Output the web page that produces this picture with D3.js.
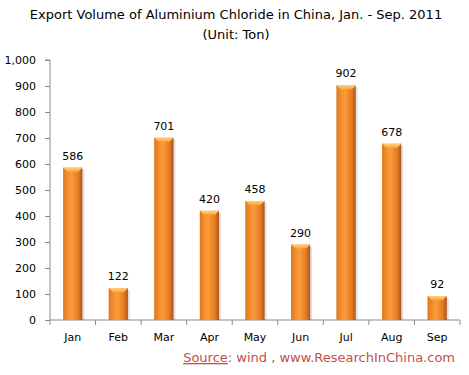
<!DOCTYPE html>
<html lang="en">
<head>
  <meta charset="UTF-8">
  <title>Export Volume of Aluminium Chloride</title>
  <script src="https://cdn.jsdelivr.net/npm/d3@7"></script>
  <style>
    body { margin: 0; background: #fff; }
  </style>
</head>
<body>
</body>
</html>
<script>
  let w = 469;
  let h = 375;

  // data
  let months = ["Jan", "Feb", "Mar", "Apr", "May", "Jun", "Jul", "Aug", "Sep"];
  let volume = [586, 122, 701, 420, 458, 290, 902, 678, 92];
  let yTicks = [0, 100, 200, 300, 400, 500, 600, 700, 800, 900, 1000];

  let margin = { left: 50, right: 9, top: 60, bottom: 55 };

  let svg = d3.select("body").append("svg").attr("width", w).attr("height", h)

  // gradient for bars
  let defs = svg.append("defs");
  let g1 = defs.append("linearGradient").attr("id", "barGrad")
    .attr("x1", "0%").attr("x2", "100%").attr("y1", "0%").attr("y2", "0%");
  g1.append("stop").attr("offset", "0%").attr("stop-color", "#c9671c");
  g1.append("stop").attr("offset", "15%").attr("stop-color", "#f08a2a");
  g1.append("stop").attr("offset", "45%").attr("stop-color", "#fd9a3a");
  g1.append("stop").attr("offset", "80%").attr("stop-color", "#e27a22");
  g1.append("stop").attr("offset", "100%").attr("stop-color", "#a9531a");

  let g2 = defs.append("linearGradient").attr("id", "topGrad")
    .attr("x1", "0%").attr("x2", "0%").attr("y1", "0%").attr("y2", "100%");
  g2.append("stop").attr("offset", "0%").attr("stop-color", "#ffd27a");
  g2.append("stop").attr("offset", "100%").attr("stop-color", "#ffa23c");

  let x = d3.scaleBand().domain(months)
    .range([margin.left, w - margin.right]).paddingInner(0.58).paddingOuter(0.29);
  let y = d3.scaleLinear().domain([0, 1000]).range([h - margin.bottom, margin.top]);

  // title
  svg.append("text").attr("x", 236).attr("y", 19).attr("text-anchor", "middle")
    .attr("font-family", "DejaVu Sans, sans-serif").attr("font-size", "13px")
    .text("Export Volume of Aluminium Chloride in China, Jan. - Sep. 2011");
  svg.append("text").attr("x", 236).attr("y", 39).attr("text-anchor", "middle")
    .attr("font-family", "DejaVu Sans, sans-serif").attr("font-size", "13px")
    .text("(Unit: Ton)");

  // y axis
  let yAxis = d3.axisLeft(y).tickValues(yTicks).tickFormat(d3.format(",")).tickSize(5).tickPadding(9);
  let ya = svg.append("g").attr("transform", "translate(" + margin.left + ",0)").call(yAxis);
  ya.selectAll("path, line").attr("stroke", "#8c8c8c");
  ya.select(".domain").attr("d", "M-5," + y(1000) + "H0V" + y(0));
  ya.selectAll("text").attr("font-family", "DejaVu Sans, sans-serif").attr("font-size", "11px").attr("fill", "#000");

  // x axis with ticks between categories
  let xa = svg.append("g");
  xa.append("line").attr("x1", margin.left).attr("x2", w - margin.right)
    .attr("y1", y(0)).attr("y2", y(0)).attr("stroke", "#8c8c8c");
  let step = x.step();
  xa.selectAll("line.tk").data(d3.range(months.length + 1)).enter().append("line")
    .attr("class", "tk")
    .attr("x1", function (d) { return margin.left + d * step })
    .attr("x2", function (d) { return margin.left + d * step })
    .attr("y1", y(0)).attr("y2", y(0) + 5).attr("stroke", "#8c8c8c");
  xa.selectAll("text").data(months).enter().append("text")
    .attr("x", function (d) { return x(d) + x.bandwidth() / 2 })
    .attr("y", y(0) + 21).attr("text-anchor", "middle")
    .attr("font-family", "DejaVu Sans, sans-serif").attr("font-size", "11px")
    .text(function (d) { return d });

  // bars
  let bars = svg.selectAll("g.bar").data(volume).enter().append("g").attr("class", "bar");
  // shadow
  bars.append("rect")
    .attr("x", function (d, i) { return x(months[i]) + 2 })
    .attr("y", function (d) { return y(d) + 2 })
    .attr("width", x.bandwidth())
    .attr("height", function (d) { return y(0) - y(d) - 2 })
    .attr("fill", "#000").attr("opacity", 0.12);
  bars.append("rect")
    .attr("x", function (d, i) { return x(months[i]) })
    .attr("y", function (d) { return y(d) })
    .attr("width", x.bandwidth())
    .attr("height", function (d) { return y(0) - y(d) })
    .attr("fill", "url(#barGrad)");
  // bevelled top
  bars.append("path")
    .attr("d", function (d, i) {
      let x0 = x(months[i]), x1 = x0 + x.bandwidth(), t = y(d), b = 4;
      return "M" + x0 + "," + t + "H" + x1 + "L" + (x1 - b) + "," + (t + b) + "H" + (x0 + b) + "Z";
    })
    .attr("fill", "url(#topGrad)");
  bars.append("path")
    .attr("d", function (d, i) {
      let x0 = x(months[i]), x1 = x0 + x.bandwidth(), t = y(d), b = 4;
      return "M" + x0 + "," + t + "L" + (x0 + b) + "," + (t + b) + "V" + y(0) + "H" + x0 + "Z";
    })
    .attr("fill", "#e88626").attr("opacity", 0.6);

  // value labels
  svg.selectAll("text.val").data(volume).enter().append("text").attr("class", "val")
    .attr("x", function (d, i) { return x(months[i]) + x.bandwidth() / 2 })
    .attr("y", function (d) { return y(d) - 8 })
    .attr("text-anchor", "middle")
    .attr("font-family", "DejaVu Sans, sans-serif").attr("font-size", "11px")
    .text(function (d) { return d });

  // source
  let src = svg.append("text").attr("x", 455).attr("y", 362).attr("text-anchor", "end")
    .attr("font-family", "DejaVu Sans, sans-serif").attr("font-size", "13px").attr("fill", "#c0504d");
  src.append("tspan").attr("text-decoration", "underline").text("Source");
  src.append("tspan").text(": wind , www.ResearchInChina.com");
</script>
